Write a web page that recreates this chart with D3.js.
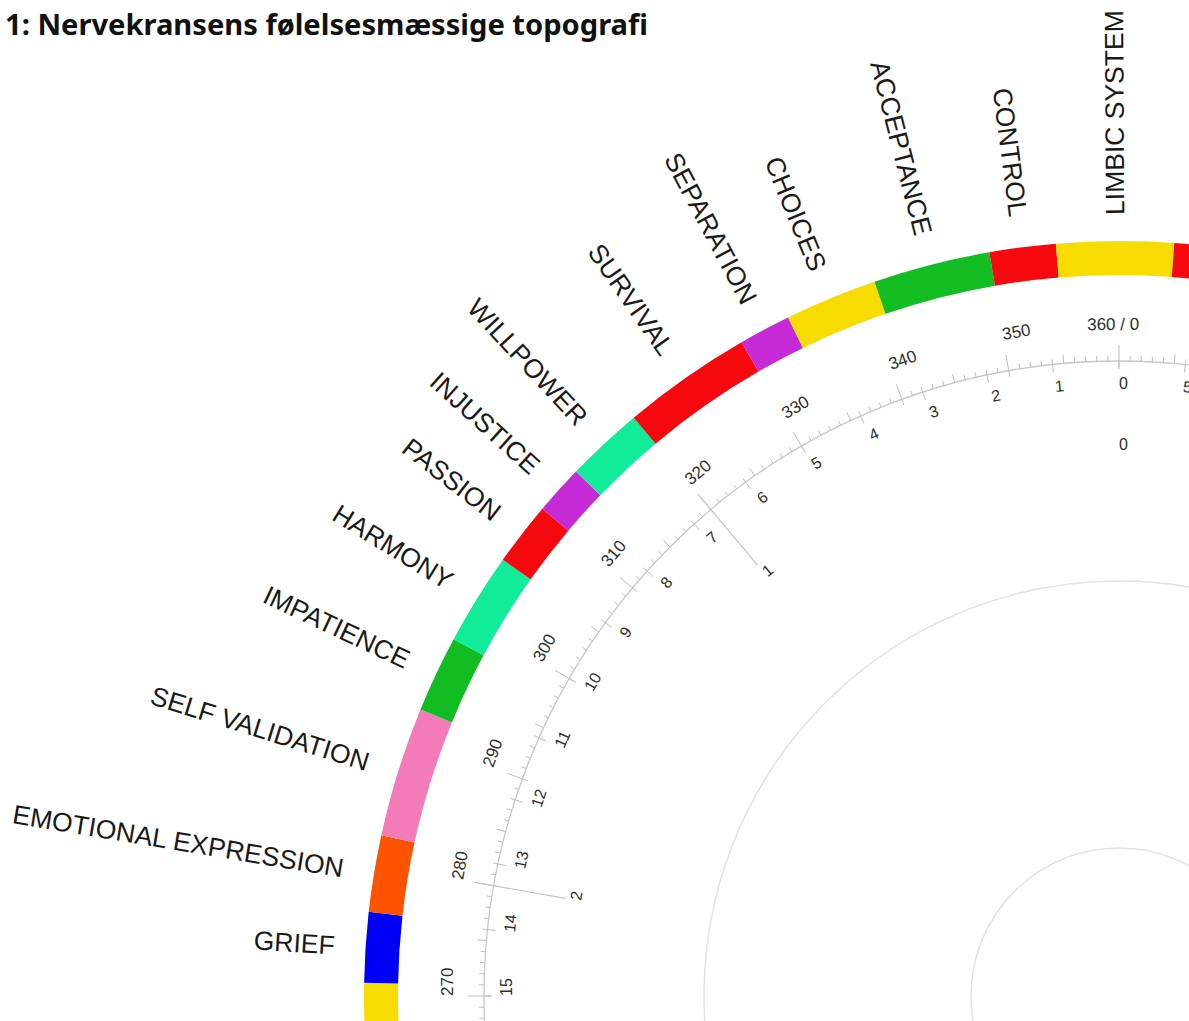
<!DOCTYPE html>
<html><head><meta charset="utf-8">
<script src="https://cdn.jsdelivr.net/npm/d3@7"></script>
<style>html,body{margin:0;padding:0;background:#fff;overflow:hidden}</style>
</head><body>
<svg id="chart" width="1189" height="1021"></svg>
<script>
// ---- data ----
const title = "1: Nervekransens følelsesmæssige topografi";
const categories = ["", "GRIEF", "EMOTIONAL EXPRESSION", "SELF VALIDATION", "IMPATIENCE", "HARMONY",
  "PASSION", "INJUSTICE", "WILLPOWER", "SURVIVAL", "SEPARATION", "CHOICES", "ACCEPTANCE",
  "CONTROL", "LIMBIC SYSTEM", ""];
const segmentStart = [262, 271, 276.4, 282.3, 292.3, 298.2, 305.3, 310.2, 314, 320, 330, 334, 341.1, 350.1, 355.2, 364.2];
const segmentEnd   = [271, 276.4, 282.3, 292.3, 298.2, 305.3, 310.2, 314, 320, 330, 334, 341.1, 350.1, 355.2, 364.2, 372];
const segmentColors = ["#F7DC00", "#0000F5", "#FC5300", "#F27BB8", "#12BD22", "#10EC98",
  "#F5080E", "#C52AD6", "#10EC98", "#F5080E", "#C52AD6", "#F7DC00", "#12BD22",
  "#F5080E", "#F7DC00", "#F5080E"];
const degreeTickValues = d3.range(0, 360, 1);
const degreeLabelValues = d3.range(0, 360, 10);
const degreeLabelText = degreeLabelValues.map(v => v === 0 ? "360 / 0" : String(v));
const minuteValues = d3.range(0, 60);
const ninthValues = d3.range(0, 9);
const guideCircleRadii = [415, 148];

// ---- layout ----
const W = 1189, H = 1021, cx = 1119, cy = 996;
const svg = d3.select("#chart");
const deg = d3.scaleLinear().domain([0, 360]).range([0, 2 * Math.PI]);
const minuteAngle = d3.scaleLinear().domain([0, 60]).range([360, 0]);
const ninthAngle = d3.scaleLinear().domain([0, 9]).range([360, 0]);
const rRingIn = 721, rRingOut = 755, rLabelOut = 781, rLabelIn = 786;
const rScale = 635, rDegLabel = 672, rMinLabel = 613, rNinthLabel = 552;
const rLongIn = 562, rLongOut = 655;
const pr = (a, r) => d3.pointRadial(deg(a), r);
// a tangential label is kept only when its anchor lies (nearly) inside the picture
const onScreen = (a, r) => { const p = pr(a, r); return cx + p[0] < W - 4 && cy + p[1] < H - 4; };

svg.append("text")
  .attr("x", 5).attr("y", 35)
  .attr("font-family", "'Noto Sans', 'Open Sans', sans-serif")
  .attr("font-weight", 700).attr("font-size", 29).attr("fill", "#111")
  .attr("textLength", 643).attr("lengthAdjust", "spacingAndGlyphs")
  .text(title);

const g = svg.append("g").attr("transform", `translate(${cx},${cy})`);

// guide circles
g.selectAll("circle.guide").data(guideCircleRadii).join("circle")
  .attr("class", "guide").attr("r", d => d)
  .attr("fill", "none").attr("stroke", "#e2e2e2").attr("stroke-width", 1.5);

// main scale circle
g.append("circle").attr("r", rScale).attr("fill", "none")
  .attr("stroke", "#c8c8c8").attr("stroke-width", 1.3);

// degree ticks (outward)
g.selectAll("line.dt").data(degreeTickValues).join("line")
  .attr("class", "dt")
  .each(function(d) {
    const r0 = d % 10 === 0 ? rScale - 6 : rScale;
    const r1 = d % 10 === 0 ? rScale + 16 : (d % 5 === 0 ? rScale + 9 : rScale + 5);
    const p0 = pr(d, r0), p1 = pr(d, r1);
    d3.select(this).attr("x1", p0[0]).attr("y1", p0[1]).attr("x2", p1[0]).attr("y2", p1[1]);
  })
  .attr("stroke", "#bdbdbd").attr("stroke-width", 1);

// minute ticks (inward)
g.selectAll("line.mt").data(minuteValues).join("line")
  .attr("class", "mt")
  .each(function(d) {
    const a = minuteAngle(d);
    const p0 = pr(a, rScale), p1 = pr(a, rScale - 8);
    d3.select(this).attr("x1", p0[0]).attr("y1", p0[1]).attr("x2", p1[0]).attr("y2", p1[1]);
  })
  .attr("stroke", "#bdbdbd").attr("stroke-width", 1);

// long ticks for the nine-part scale
g.selectAll("line.nt").data(ninthValues.filter(d => d > 0)).join("line")
  .attr("class", "nt")
  .each(function(d) {
    const a = ninthAngle(d);
    const p0 = pr(a, rLongIn), p1 = pr(a, rLongOut);
    d3.select(this).attr("x1", p0[0]).attr("y1", p0[1]).attr("x2", p1[0]).attr("y2", p1[1]);
  })
  .attr("stroke", "#c4c4c4").attr("stroke-width", 1.2);

// tangential labels helper
function tangLabels(cls, data, angleFn, textFn, r, size, anchorFn) {
  const items = data.map((d, i) => ({ d, i, a: angleFn(d), t: textFn(d, i) }))
    .filter(o => onScreen(o.a, r));
  g.selectAll("text." + cls).data(items).join("text")
    .attr("class", cls)
    .attr("transform", o => `rotate(${o.a - 90}) translate(${r},0) rotate(90)`)
    .attr("dy", "0.35em")
    .attr("text-anchor", o => anchorFn(o.d))
    .attr("font-family", "'Liberation Sans', Arial, sans-serif")
    .attr("font-size", size).attr("fill", "#2e2e2e")
    .text(o => o.t);
}
tangLabels("dl", degreeLabelValues, d => d === 0 ? 359.5 : d, (d, i) => degreeLabelText[i], rDegLabel, 17,
  d => d === 0 ? "middle" : "start");
tangLabels("ml", minuteValues, d => minuteAngle(d), d => String(d), rMinLabel, 16, () => "start");
tangLabels("nl", ninthValues, d => ninthAngle(d), d => String(d), rNinthLabel, 16, () => "start");

// ring segments
const arc = d3.arc().innerRadius(rRingIn).outerRadius(rRingOut);
g.selectAll("path.seg").data(categories).join("path")
  .attr("class", "seg")
  .attr("d", (d, i) => arc({ startAngle: deg(segmentStart[i]), endAngle: deg(segmentEnd[i]) }))
  .attr("fill", (d, i) => segmentColors[i]);

// category labels (radial)
const midAngle = i => ((segmentStart[i] + segmentEnd[i]) / 2) % 360;
const isFlipped = a => a > 180 && a < 359;
g.selectAll("text.cat").data(categories.map((c, i) => ({ c, i })).filter(o => o.c !== "")).join("text")
  .attr("class", "cat")
  .attr("transform", o => {
    const a = midAngle(o.i), f = isFlipped(a);
    return `rotate(${a - 90}) translate(${f ? rLabelIn : rLabelOut},0)` + (f ? " rotate(180)" : "");
  })
  .attr("text-anchor", o => isFlipped(midAngle(o.i)) ? "end" : "start")
  .attr("dy", "0.35em")
  .attr("font-family", "'Liberation Sans', Arial, sans-serif")
  .attr("font-size", 26.5).attr("fill", "#1a1a1a")
  .text(o => o.c);
</script>
</body></html>
